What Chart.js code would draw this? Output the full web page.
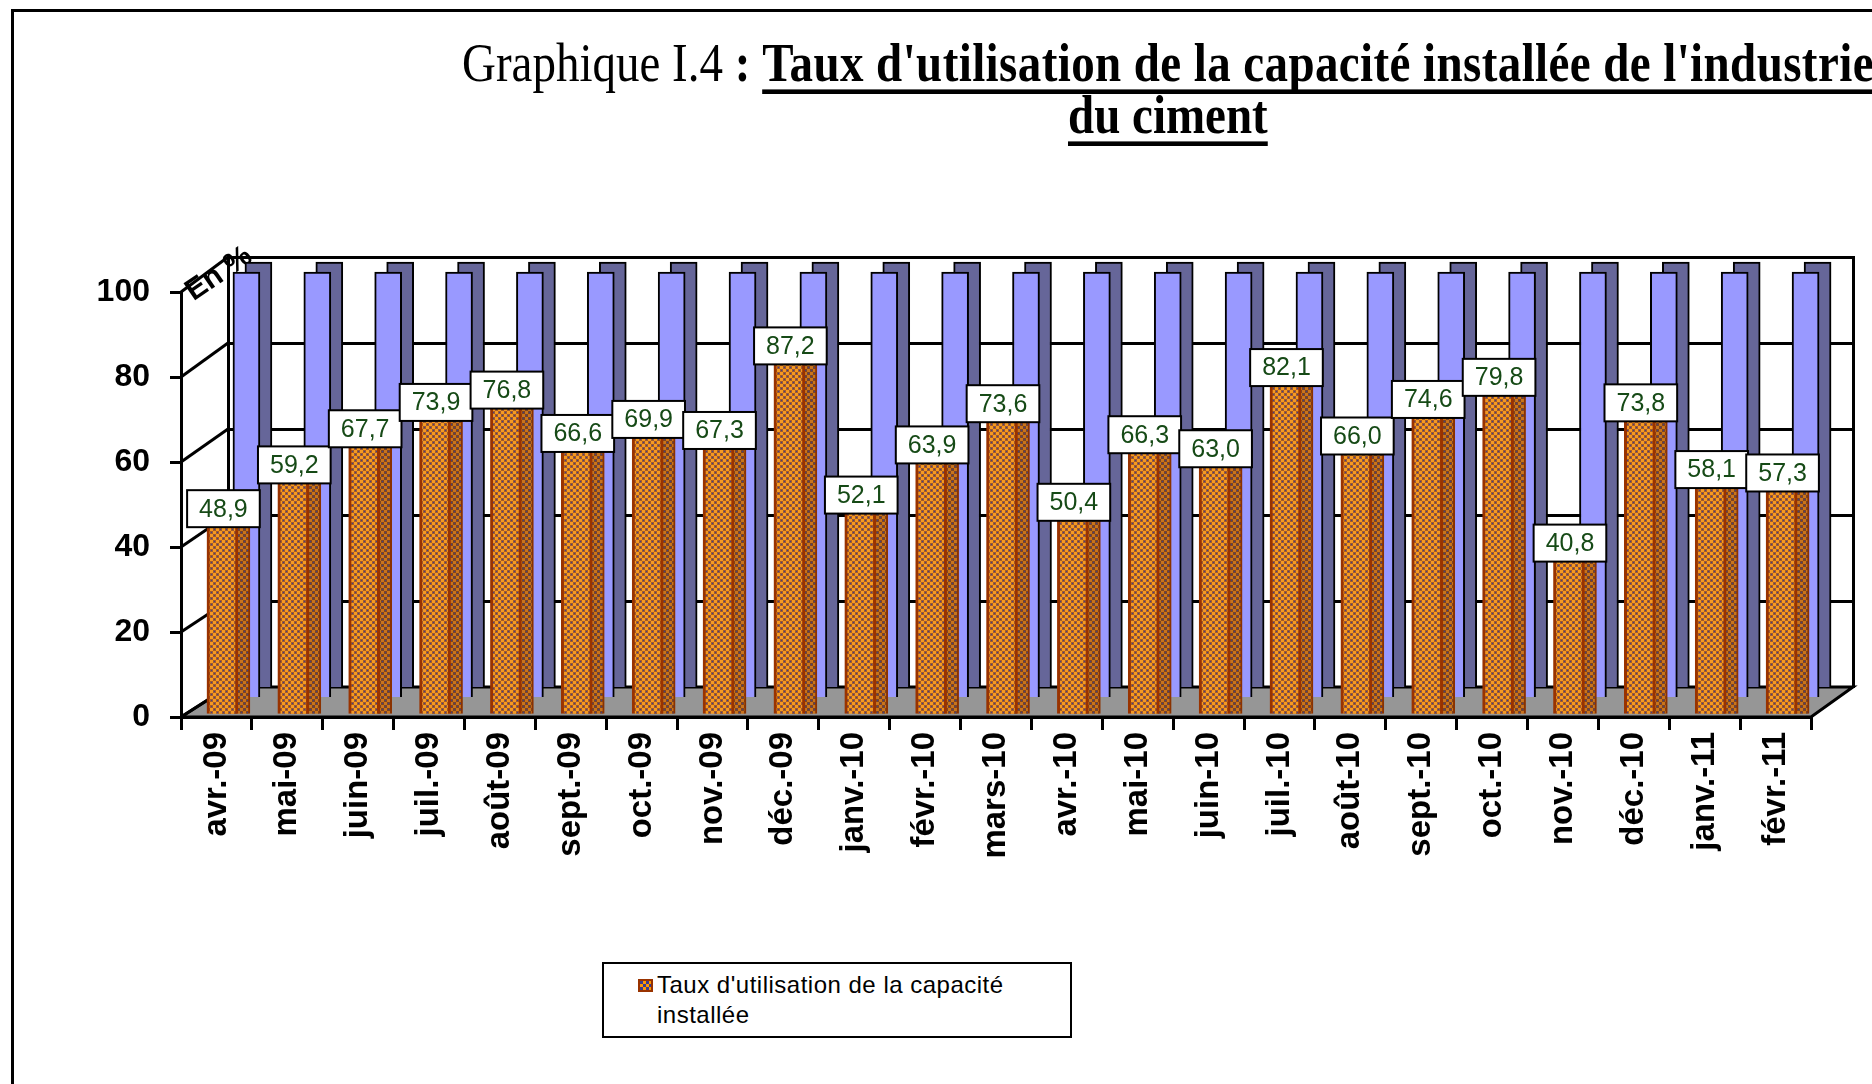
<!DOCTYPE html>
<html>
<head>
<meta charset="utf-8">
<script src="https://cdn.jsdelivr.net/npm/chart.js@4.4.1/dist/chart.umd.min.js"></script>
<style>
  body { margin: 0; background: #fff; overflow: hidden; width: 1872px; height: 1084px; position: relative; }
  #frame { position: absolute; left: 11px; top: 9px; width: 1900px; height: 1100px; border-left: 3px solid #000; border-top: 3px solid #000; }
  #c { position: absolute; left: 0; top: 0; }
  .t { position: absolute; white-space: nowrap; font-family: "Liberation Serif", "Times New Roman", serif; font-size: 47px; line-height: 54px; transform: scaleY(1.15); transform-origin: 0 100%; }
  .t u { text-decoration-thickness: 4px; text-underline-offset: 7px; text-decoration-skip-ink: none; }
  .t .wide { letter-spacing: 0.4px; }
  #legend { position: absolute; left: 602px; top: 962px; width: 466px; height: 72px; border: 2px solid #000; background: #fff;
            font-family: "Liberation Sans", Arial, sans-serif; font-size: 24px; line-height: 30px; color: #000; }
  #legend .sw { position: absolute; left: 34px; top: 15px; width: 11px; height: 9px; border: 2px solid #993300;
                background: repeating-conic-gradient(#ff9900 0 25%, #3b3b8f 0 50%) 0 0 / 6px 6px; }
  #legend .tx { position: absolute; left: 53px; top: 6px; letter-spacing: 0.5px; }
</style>
</head>
<body>
<div id="frame"></div>
<div class="t" style="left:462px;top:40px">Graphique I.4 <b>: </b><b class="wide"><u>Taux d'utilisation de la capacité installée de l'industrie</u></b></div>
<div class="t" style="left:1068px;top:92px"><b><u>du ciment</u></b></div>
<canvas id="c" width="1872" height="1084"></canvas>
<div id="legend"><span class="sw"></span><span class="tx">Taux d'utilisation de la capacité<br>installée</span></div>

<script>
// mois (avril 2009 - février 2011)
const labels = ['avr.-09', 'mai-09', 'juin-09', 'juil.-09', 'août-09', 'sept.-09', 'oct.-09', 'nov.-09', 'déc.-09',
  'janv.-10', 'févr.-10', 'mars-10', 'avr.-10', 'mai-10', 'juin-10', 'juil.-10', 'août-10', 'sept.-10', 'oct.-10',
  'nov.-10', 'déc.-10', 'janv.-11', 'févr.-11'];

// taux d'utilisation de la capacité installée (en %)
const tauxUtilisation = [48.9, 59.2, 67.7, 73.9, 76.8, 66.6, 69.9, 67.3, 87.2, 52.1, 63.9, 73.6,
  50.4, 66.3, 63.0, 82.1, 66.0, 74.6, 79.8, 40.8, 73.8, 58.1, 57.3];

// capacité installée (barres bleues du fond)
const capacite = [100, 100, 100, 100, 100, 100, 100, 100, 100, 100, 100, 100,
  100, 100, 100, 100, 100, 100, 100, 100, 100, 100, 100];

const yMin = 0;
const yMax = 100;
const yStep = 20;

const FONT = "'Liberation Sans', Arial, sans-serif";

// fausse 3D : decalage de chaque plan par rapport au mur du fond [gauche, droite, haut, bas]
const depth = {
  x:   [-47, -42, 30, 30],
  yf:  [-47, -47, 35, 30],
  xo:  [-41, -36, 0, 0],
  xos: [-29, -24, 0, 0],
  yo:  [0, 0, 53, 48],
  xb:  [-17, -12, 0, 0],
  yb:  [0, 0, 15, 10],
  xbs: [-5, 0, 0, 0],
  ybs: [0, 0, 5, 0]
};

function makePattern(light, dark, dot) {
  const tile = document.createElement('canvas');
  tile.width = tile.height = 6;
  const t = tile.getContext('2d');
  t.fillStyle = dark;
  t.fillRect(0, 0, 6, 6);
  t.fillStyle = light;
  t.fillRect(0, 0, 3, 3);
  t.fillRect(3, 3, 3, 3);
  t.fillStyle = dot;
  t.fillRect(4, 1, 1, 1);
  t.fillRect(1, 4, 1, 1);
  return document.getElementById('c').getContext('2d').createPattern(tile, 'repeat');
}

const orangeFront = makePattern('#f59a22', '#a05a2c', '#3b3b8f');
const orangeSide = makePattern('#c9741c', '#7d4522', '#3b3b8f');

const depthPlugin = {
  id: 'depth3d',
  afterLayout(chart) {
    for (const id in depth) {
      const s = chart.scales[id];
      const d = depth[id];
      s.left += d[0]; s.right += d[1]; s.top += d[2]; s.bottom += d[3];
      s.width = s.right - s.left;
      s.height = s.bottom - s.top;
      s.configure();
    }
  },
  beforeDatasetsDraw(chart) {
    const ctx = chart.ctx;
    const area = chart.chartArea;
    const x = chart.scales.x, yf = chart.scales.yf, y = chart.scales.y;
    ctx.save();
    // sol
    ctx.beginPath();
    ctx.moveTo(x.left, x.top);
    ctx.lineTo(area.left, area.bottom);
    ctx.lineTo(area.right, area.bottom);
    ctx.lineTo(x.right, x.top);
    ctx.closePath();
    ctx.fillStyle = '#969696';
    ctx.fill();
    ctx.strokeStyle = '#000';
    ctx.lineWidth = 3;
    ctx.stroke();
    // mur de gauche
    for (let v = yMin; v <= yMax; v += yStep) {
      ctx.beginPath();
      ctx.moveTo(yf.right, yf.getPixelForValue(v));
      ctx.lineTo(area.left, y.getPixelForValue(v));
      ctx.stroke();
    }
    // unite
    ctx.translate(yf.right + 38, yf.getPixelForValue(yMax) - 18);
    ctx.rotate(-0.6);
    ctx.font = 'bold 30px ' + FONT;
    ctx.fillStyle = '#000';
    ctx.textAlign = 'center';
    ctx.textBaseline = 'middle';
    ctx.fillText('En %', 0, 0);
    ctx.restore();
  },
  afterDatasetsDraw(chart) {
    const ctx = chart.ctx;
    const meta = chart.getDatasetMeta(0);
    ctx.save();
    ctx.font = '25px ' + FONT;
    ctx.textAlign = 'center';
    ctx.textBaseline = 'middle';
    meta.data.forEach((bar, i) => {
      const txt = tauxUtilisation[i].toFixed(1).replace('.', ',');
      const w = ctx.measureText(txt).width + 24;
      const h = 37;
      const cx = bar.x + 1;
      const top = bar.y - h;
      ctx.fillStyle = '#fff';
      ctx.fillRect(cx - w / 2, top, w, h);
      ctx.strokeStyle = '#000';
      ctx.lineWidth = 2;
      ctx.strokeRect(cx - w / 2, top, w, h);
      ctx.fillStyle = '#164a16';
      ctx.fillText(txt, cx, top + h / 2 + 1);
    });
    ctx.restore();
  }
};

const hiddenX = { type: 'category', display: false, offset: true };
const hiddenY = { type: 'linear', display: false, min: yMin, max: yMax };

new Chart(document.getElementById('c'), {
  type: 'bar',
  data: {
    labels: labels,
    datasets: [
      {
        label: "Taux d'utilisation de la capacité installée",
        data: tauxUtilisation,
        xAxisID: 'xo', yAxisID: 'yo',
        base: 5,
        backgroundColor: orangeFront,
        borderColor: '#993300',
        borderWidth: { left: 3, right: 3, top: 0, bottom: 0 },
        barThickness: 31,
        grouped: false,
        clip: false
      },
      {
        label: 'face',
        data: tauxUtilisation,
        xAxisID: 'xos', yAxisID: 'yo',
        base: 5,
        backgroundColor: orangeSide,
        borderColor: '#8a3200',
        borderWidth: { left: 0, right: 2, top: 0, bottom: 0 },
        barThickness: 31,
        grouped: false,
        clip: false
      },
      {
        label: 'Capacité',
        data: capacite,
        xAxisID: 'xb', yAxisID: 'yb',
        backgroundColor: '#9999ff',
        borderColor: '#000',
        borderWidth: 2,
        barThickness: 27,
        grouped: false,
        clip: false
      },
      {
        label: 'Capacité face',
        data: capacite,
        xAxisID: 'xbs', yAxisID: 'ybs',
        backgroundColor: '#666699',
        borderColor: '#000',
        borderWidth: 2,
        barThickness: 27,
        grouped: false,
        clip: false
      }
    ]
  },
  options: {
    responsive: false,
    animation: false,
    layout: { padding: { left: 128, right: 19, top: 257, bottom: 207 } },
    plugins: {
      legend: { display: false },
      tooltip: { enabled: false }
    },
    scales: {
      x: {
        type: 'category',
        position: 'bottom',
        offset: true,
        weight: 0,
        grid: { drawOnChartArea: false, offset: true, tickLength: 13, color: '#000', lineWidth: 3 },
        border: { color: '#000', width: 3 },
        ticks: { autoSkip: false, minRotation: 90, maxRotation: 90, padding: 2, color: '#000', font: { family: FONT, size: 33, weight: 'bold' } },
        afterFit(s) { s.height = 190; }
      },
      y: {
        type: 'linear',
        position: 'left',
        weight: 0,
        min: yMin, max: yMax,
        ticks: { display: false, stepSize: yStep },
        grid: { color: '#000', lineWidth: 3, drawTicks: false },
        border: { color: '#000', width: 3 },
        afterFit(s) { s.width = 0; }
      },
      yf: {
        type: 'linear',
        position: 'left',
        weight: 1,
        min: yMin, max: yMax,
        ticks: { stepSize: yStep, padding: 20, color: '#000', font: { family: FONT, size: 32, weight: 'bold' } },
        grid: { drawOnChartArea: false, tickLength: 11, color: '#000', lineWidth: 3 },
        border: { color: '#000', width: 3 },
        afterFit(s) { s.width = 100; }
      },
      yr: {
        type: 'linear',
        position: 'right',
        min: yMin, max: yMax,
        ticks: { display: false },
        grid: { drawOnChartArea: false, drawTicks: false },
        border: { color: '#000', width: 3 },
        afterFit(s) { s.width = 0; }
      },
      xo: hiddenX, xos: hiddenX, xb: hiddenX, xbs: hiddenX,
      yo: hiddenY, yb: hiddenY, ybs: hiddenY
    }
  },
  plugins: [depthPlugin]
});
</script>
</body>
</html>
